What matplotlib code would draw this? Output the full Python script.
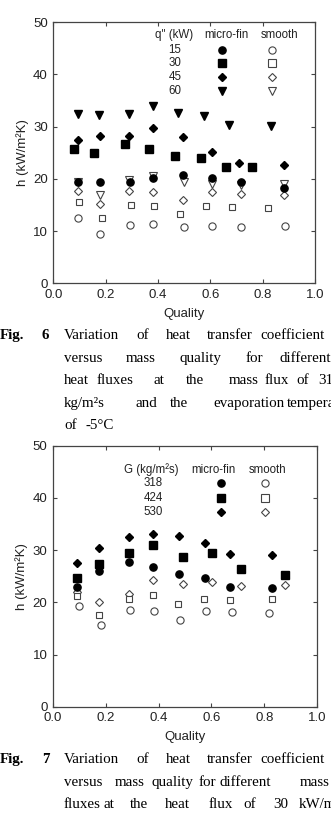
import matplotlib
matplotlib.use('Agg')
import matplotlib.pyplot as plt

W, H = 331, 816

# Fig. 6 data: heat flux series (kW)
q_labels = ['15', '30', '45', '60']
mf15_x = [0.096, 0.178, 0.293, 0.382, 0.497, 0.606, 0.716, 0.882]
mf15_h = [19.4, 19.4, 19.4, 20.2, 20.7, 20.1, 19.4, 18.2]
mf30_x = [0.079, 0.155, 0.275, 0.367, 0.464, 0.563, 0.660, 0.760]
mf30_h = [25.7, 25.0, 26.7, 25.8, 24.4, 24.0, 22.2, 22.2]
mf45_x = [0.093, 0.178, 0.290, 0.380, 0.494, 0.605, 0.711, 0.882]
mf45_h = [27.4, 28.2, 28.2, 29.8, 28.0, 25.1, 23.1, 22.7]
mf60_x = [0.093, 0.176, 0.290, 0.380, 0.478, 0.576, 0.673, 0.830]
mf60_h = [32.5, 32.3, 32.4, 33.9, 32.6, 32.0, 30.4, 30.2]
sm15_x = [0.096, 0.180, 0.293, 0.382, 0.498, 0.608, 0.716, 0.884]
sm15_h = [12.45, 9.4, 11.2, 11.4, 10.7, 10.9, 10.85, 10.9]
sm30_x = [0.099, 0.185, 0.297, 0.385, 0.484, 0.583, 0.681, 0.820]
sm30_h = [15.6, 12.6, 15.0, 14.8, 13.2, 14.8, 14.6, 14.5]
sm45_x = [0.093, 0.178, 0.290, 0.380, 0.497, 0.606, 0.716, 0.882]
sm45_h = [17.7, 15.2, 17.7, 17.5, 16.0, 17.4, 17.1, 16.9]
sm60_x = [0.093, 0.178, 0.290, 0.382, 0.499, 0.608, 0.716, 0.883]
sm60_h = [19.5, 16.9, 19.8, 20.5, 19.5, 19.1, 18.8, 19.0]

# Fig. 7 data: mass flux series (kg/m2s)
g_labels = ['318', '424', '530']
mf318_x = [0.092, 0.175, 0.289, 0.377, 0.476, 0.574, 0.670, 0.830]
mf318_h = [22.9, 26.05, 27.8, 26.8, 25.35, 24.65, 23.0, 22.8]
mf424_x = [0.092, 0.175, 0.289, 0.377, 0.494, 0.602, 0.711, 0.880]
mf424_h = [24.65, 27.4, 29.4, 31.0, 28.7, 29.4, 26.3, 25.2]
mf530_x = [0.092, 0.175, 0.289, 0.377, 0.476, 0.574, 0.670, 0.830]
mf530_h = [27.6, 30.4, 32.5, 33.1, 32.7, 31.4, 29.3, 29.1]
sm318_x = [0.098, 0.182, 0.293, 0.384, 0.482, 0.581, 0.677, 0.818]
sm318_h = [19.35, 15.7, 18.5, 18.4, 16.6, 18.4, 18.1, 18.0]
sm424_x = [0.092, 0.175, 0.288, 0.377, 0.475, 0.573, 0.672, 0.830]
sm424_h = [21.3, 17.5, 20.6, 21.45, 19.6, 20.6, 20.4, 20.6]
sm530_x = [0.092, 0.175, 0.289, 0.377, 0.494, 0.602, 0.711, 0.880]
sm530_h = [21.9, 20.1, 21.6, 24.3, 23.6, 23.8, 23.1, 23.3]

SANS = 'Liberation Sans'
SERIF = 'Liberation Serif'
GRAY = '#444444'
MS = 5.2
LEG_FS = 8.3


def px(x, y):
    """pixel coords -> figure fraction"""
    return x / W, 1 - y / H


def style_axes(ax):
    ax.set_xlim(0, 1.0)
    ax.set_ylim(0, 50)
    ax.set_xticks([0, 0.2, 0.4, 0.6, 0.8, 1.0])
    ax.set_xticklabels(['0.0', '0.2', '0.4', '0.6', '0.8', '1.0'])
    ax.set_yticks([0, 10, 20, 30, 40, 50])
    ax.tick_params(direction='in', length=3, width=0.8, color=GRAY,
                   top=True, right=True, labelsize=9.5, labelcolor='#222222')
    ax.tick_params(axis='x', pad=4)
    ax.tick_params(axis='y', pad=4)
    for lab in ax.get_xticklabels() + ax.get_yticklabels():
        lab.set_fontfamily(SANS)
    for s in ax.spines.values():
        s.set_color(GRAY)
        s.set_linewidth(0.9)
    ax.set_xlabel('Quality', fontsize=9.5, family=SANS, color='#222222', labelpad=5)
    ax.set_ylabel('h (kW/m²K)', fontsize=9.5, family=SANS, color='#222222', labelpad=3)


def filled(ax, x, y, m, ms=MS):
    ax.plot(x, y, ls='none', marker=m, ms=ms, color='black', mec='black')


def hollow(ax, x, y, m, ms=MS):
    ax.plot(x, y, ls='none', marker=m, ms=ms, mfc='white', mec=GRAY, mew=0.8)


def legend_marker(fig, x, y, m, fill, ms=MS):
    fx, fy = px(x, y)
    if fill:
        fig.lines.append(plt.Line2D([fx], [fy], transform=fig.transFigure, ls='none',
                                    marker=m, ms=ms, color='black'))
    else:
        fig.lines.append(plt.Line2D([fx], [fy], transform=fig.transFigure, ls='none',
                                    marker=m, ms=ms, mfc='white', mec=GRAY, mew=0.8))


def caption(fig, y, words):
    for x, w, bold in words:
        fx, fy = px(x, y)
        fig.text(fx, fy, w, family=SERIF, fontsize=10.8, va='center', ha='left',
                 weight='bold' if bold else 'normal', color='black')


fig = plt.figure(figsize=(W / 100, H / 100), dpi=100)

# ---------- Fig. 6 ----------
ax1 = fig.add_axes([53.3 / W, 1 - 283.3 / H, (315 - 53.3) / W, 261 / H])
style_axes(ax1)
hollow(ax1, sm60_x, sm60_h, 'v')
hollow(ax1, sm45_x, sm45_h, 'D', MS - 0.8)
hollow(ax1, sm30_x, sm30_h, 's', MS - 0.4)
hollow(ax1, sm15_x, sm15_h, 'o')
filled(ax1, mf15_x, mf15_h, 'o')
filled(ax1, mf30_x, mf30_h, 's')
filled(ax1, mf45_x, mf45_h, 'D', MS - 0.8)
filled(ax1, mf60_x, mf60_h, 'v')

for x, t in [(174, 'q" (kW)'), (226.7, 'micro-fin'), (280, 'smooth')]:
    fx, fy = px(x, 35)
    fig.text(fx, fy, t, family=SANS, fontsize=LEG_FS, ha='center', va='center', color='#222222')
for i, (lab, m, dm) in enumerate(zip(q_labels, ['o', 's', 'D', 'v'], [0, 0, -0.8, 0])):
    yy = [50, 63.3, 77.3, 90.7][i]
    fx, fy = px(175, yy)
    fig.text(fx, fy, lab, family=SANS, fontsize=LEG_FS, ha='center', va='center', color='#222222')
    legend_marker(fig, 222.3, yy, m, True, MS + dm)
    legend_marker(fig, 271.7, yy, m, False, MS + dm)

caption(fig, 335.7, [(0, 'Fig.', True), (41, '6', True), (64, 'Variation', False),
                     (136.7, 'of', False), (165.7, 'heat', False), (206.7, 'transfer', False),
                     (260, 'coefficient', False)])
caption(fig, 358.3, [(64, 'versus', False), (126, 'mass', False), (180, 'quality', False),
                     (246, 'for', False), (280, 'different', False)])
caption(fig, 381, [(64, 'heat', False), (96.7, 'fluxes', False), (153.3, 'at', False),
                   (185.7, 'the', False), (228.3, 'mass', False), (265, 'flux', False),
                   (296.7, 'of', False), (318.3, '318', False)])
caption(fig, 403.3, [(63.3, 'kg/m²s', False), (135, 'and', False), (170, 'the', False),
                     (213.3, 'evaporation', False), (286.7, 'temperature', False)])
caption(fig, 425, [(64, 'of', False), (86, '-5°C', False)])

# ---------- Fig. 7 ----------
ax2 = fig.add_axes([53 / W, 1 - 706.7 / H, 264 / W, 261 / H])
style_axes(ax2)
hollow(ax2, sm530_x, sm530_h, 'D', MS - 0.8)
hollow(ax2, sm424_x, sm424_h, 's', MS - 0.4)
hollow(ax2, sm318_x, sm318_h, 'o')
filled(ax2, mf318_x, mf318_h, 'o')
filled(ax2, mf424_x, mf424_h, 's')
filled(ax2, mf530_x, mf530_h, 'D', MS - 0.8)

for x, t in [(151.7, 'G (kg/m²s)'), (213.3, 'micro-fin'), (267.3, 'smooth')]:
    fx, fy = px(x, 470)
    fig.text(fx, fy, t, family=SANS, fontsize=LEG_FS, ha='center', va='center', color='#222222')
for i, (lab, m, dm) in enumerate(zip(g_labels, ['o', 's', 'D'], [0, 0, -0.8])):
    yy = [483.3, 497.7, 512][i]
    fx, fy = px(153.3, yy)
    fig.text(fx, fy, lab, family=SANS, fontsize=LEG_FS, ha='center', va='center', color='#222222')
    legend_marker(fig, 221, yy, m, True, MS + dm)
    legend_marker(fig, 265, yy, m, False, MS + dm)

caption(fig, 759.3, [(0, 'Fig.', True), (41.7, '7', True), (64, 'Variation', False),
                     (136.7, 'of', False), (165.7, 'heat', False), (207.3, 'transfer', False),
                     (260, 'coefficient', False)])
caption(fig, 782.7, [(64, 'versus', False), (115, 'mass', False), (151.7, 'quality', False),
                     (198.3, 'for', False), (220, 'different', False), (300, 'mass', False)])
caption(fig, 805, [(64, 'fluxes', False), (103.3, 'at', False), (130, 'the', False),
                   (165, 'heat', False), (208.3, 'flux', False), (243.3, 'of', False),
                   (273.3, '30', False), (298.3, 'kW/m²', False)])

plt.savefig('out.png', dpi=100)
